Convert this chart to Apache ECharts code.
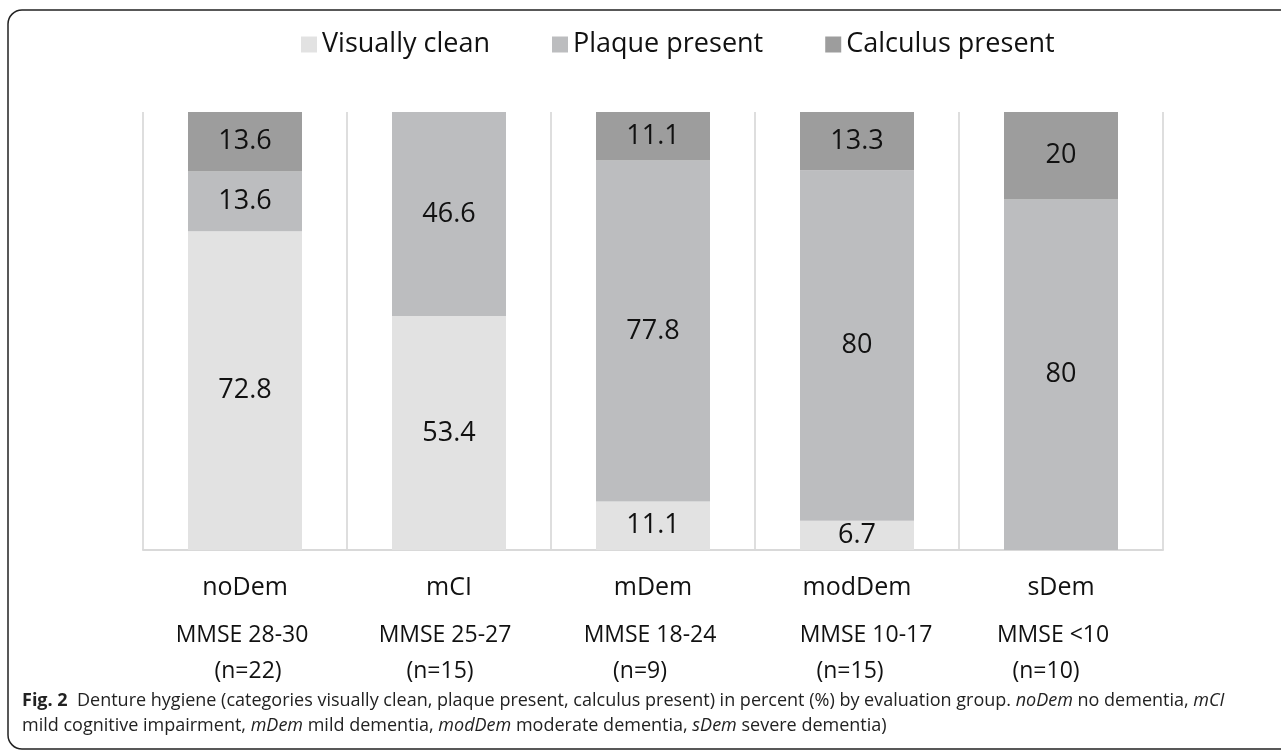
<!DOCTYPE html>
<html>
<head>
<meta charset="utf-8">
<script src="https://cdn.jsdelivr.net/npm/echarts@6/dist/echarts.min.js"></script>
<style>
  html, body { margin: 0; padding: 0; background: #fff; }
  #chart { width: 1281px; height: 754px; }
</style>
</head>
<body>
<div id="chart"></div>
<script>
const groups = ['noDem', 'mCI', 'mDem', 'modDem', 'sDem'];
const mmse = ['MMSE 28-30', 'MMSE 25-27', 'MMSE 18-24', 'MMSE 10-17', 'MMSE <10'];
const sizes = ['(n=22)', '(n=15)', '(n=9)', '(n=15)', '(n=10)'];
const seriesNames = ['Visually clean', 'Plaque present', 'Calculus present'];
const visuallyClean = [72.8, 53.4, 11.1, 6.7, 0];
const plaquePresent = [13.6, 46.6, 77.8, 80, 80];
const calculusPresent = [13.6, 0, 11.1, 13.3, 20];
const colors = ['#e2e2e2', '#bcbdbf', '#9d9d9d'];

const chart = echarts.init(document.getElementById('chart'));
const font = '"Open Sans", "Noto Sans", sans-serif';

// the MMSE / n lines are not exactly centred under the bars in the original
const mmseShift = [-3, -4, -3, 9, -8];
const sizeShift = [3, -9, -13, -7, -15];

function shiftPad(d) {
    return d > 0 ? [0, 0, 0, 2 * d] : [0, -2 * d, 0, 0];
}

const rich = {
    c: {fontSize: 25, lineHeight: 40, color: '#111', fontFamily: font}
};
groups.forEach(function (g, i) {
    rich['m' + i] = {fontSize: 23, lineHeight: 54, color: '#111', fontFamily: font, padding: shiftPad(mmseShift[i])};
    rich['n' + i] = {fontSize: 23, lineHeight: 18, color: '#111', fontFamily: font, padding: shiftPad(sizeShift[i])};
});

function makeSeries(name, values, color) {
    return {
        name: name,
        type: 'bar',
        stack: 'total',
        barWidth: 114,
        data: values,
        itemStyle: {color: color},
        label: {
            show: true,
            position: 'inside',
            color: '#111',
            fontFamily: font,
            fontSize: 27,
            formatter: function (p) {
                return p.value ? String(p.value) : '';
            }
        }
    };
}

const option = {
    backgroundColor: '#fff',
    animation: false,
    textStyle: {fontFamily: font},
    legend: {
        top: 26,
        left: 296,
        itemWidth: 16,
        itemHeight: 16,
        itemGap: 62,
        icon: 'rect',
        textStyle: {fontSize: 27, color: '#111', fontFamily: font},
        data: seriesNames
    },
    grid: {
        left: 143,
        right: 118,
        top: 112,
        bottom: 204
    },
    xAxis: {
        type: 'category',
        data: groups,
        axisLine: {lineStyle: {color: '#d9d9d9', width: 2}},
        axisTick: {show: false},
        splitLine: {show: true, lineStyle: {color: '#dedede', width: 2}},
        axisLabel: {
            margin: 18,
            interval: 0,
            color: '#111',
            formatter: function (value, idx) {
                return '{c|' + value + '}\n{m' + idx + '|' + mmse[idx] + '}\n{n' + idx + '|' + sizes[idx] + '}';
            },
            rich: rich
        }
    },
    yAxis: {
        type: 'value',
        min: 0,
        max: 100,
        show: false
    },
    series: [
        makeSeries(seriesNames[0], visuallyClean, colors[0]),
        makeSeries(seriesNames[1], plaquePresent, colors[1]),
        makeSeries(seriesNames[2], calculusPresent, colors[2])
    ],
    graphic: [
        {
            type: 'rect',
            shape: {x: 8, y: 10, width: 1290, height: 739, r: 14},
            style: {fill: null, stroke: '#222', lineWidth: 1.5},
            silent: true
        },
        {
            type: 'text',
            left: 22,
            top: 688,
            style: {
                text: '{b|Fig. 2}  Denture hygiene (categories visually clean, plaque present, calculus present) in percent (%) by evaluation group. {i|noDem} no dementia, {i|mCI}\nmild cognitive impairment, {i|mDem} mild dementia, {i|modDem} moderate dementia, {i|sDem} severe dementia)',
                font: '18px ' + font,
                fill: '#222',
                lineHeight: 25,
                rich: {
                    b: {fontWeight: 'bold', fontSize: 18, fontFamily: font, fill: '#222'},
                    i: {fontStyle: 'italic', fontSize: 18, fontFamily: font, fill: '#222'}
                }
            }
        }
    ]
};

chart.setOption(option);
</script>
</body>
</html>
